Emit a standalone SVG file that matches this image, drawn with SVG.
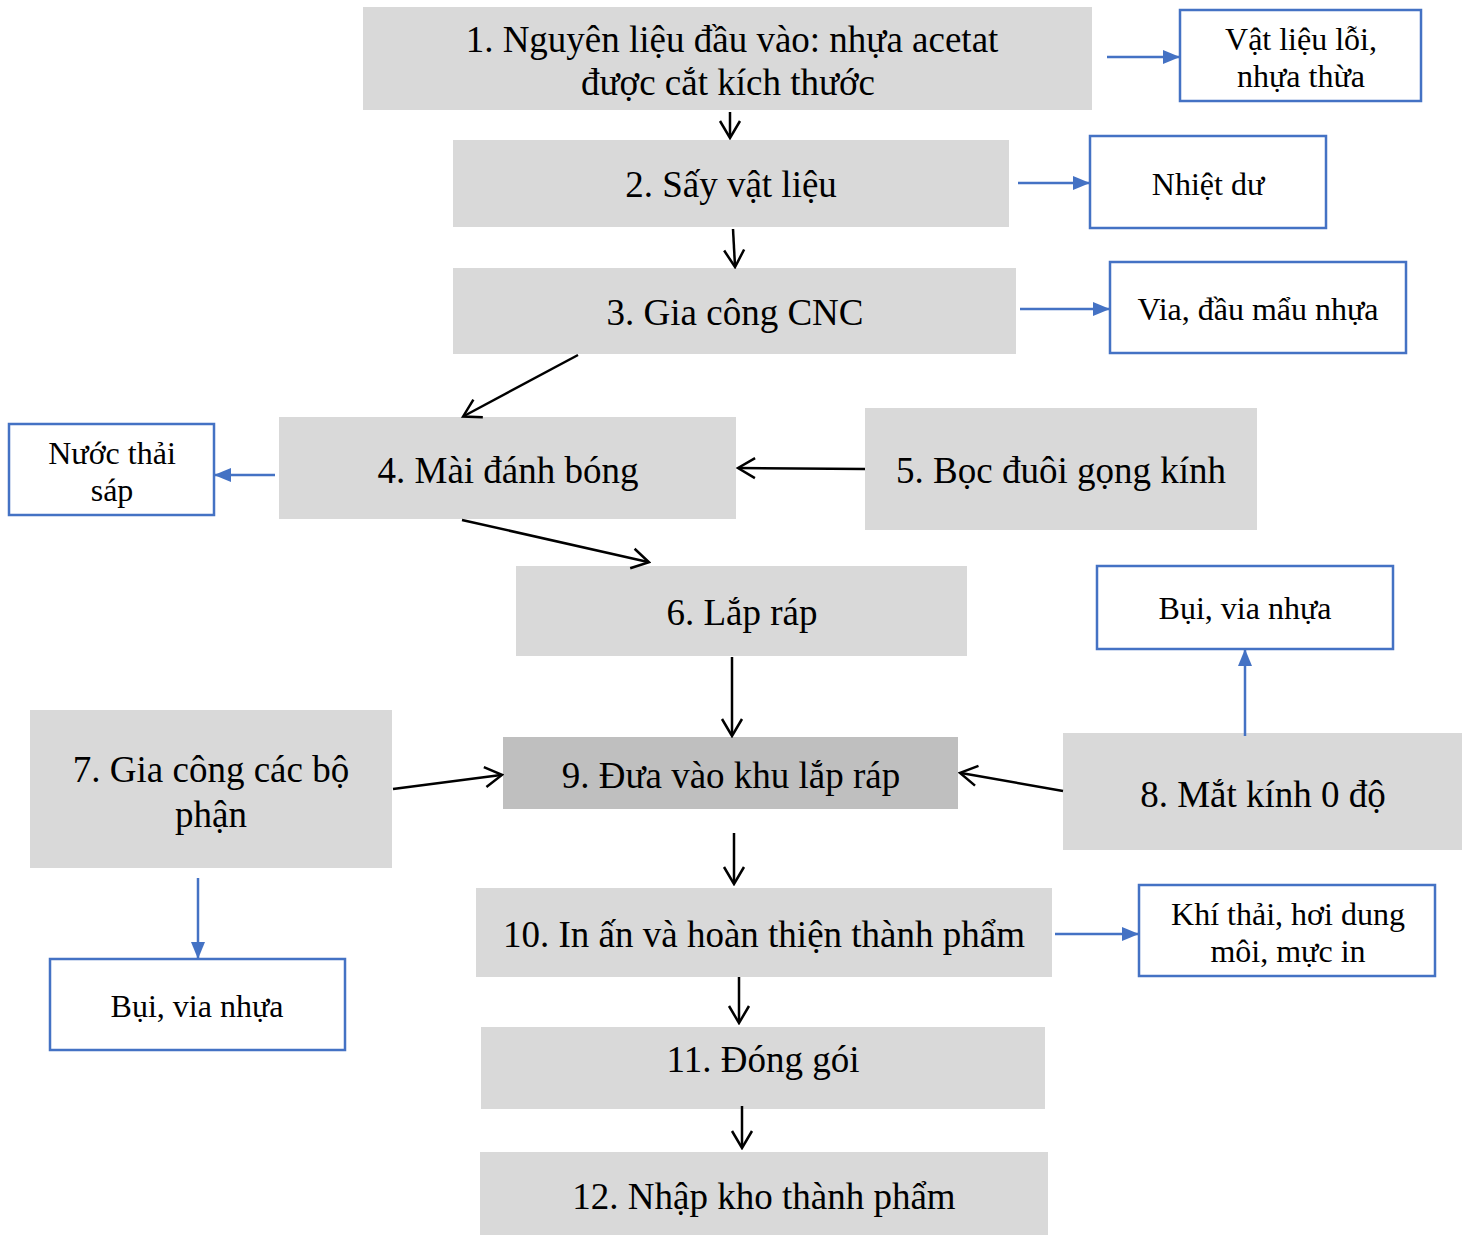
<svg xmlns="http://www.w3.org/2000/svg" width="1472" height="1236" viewBox="0 0 1472 1236">
<style>
.p{fill:#d9d9d9}
.p9{fill:#bfbfbf}
.o{fill:#fff;stroke:#4472c4;stroke-width:2.5}
text{font-family:"Liberation Serif","Times New Roman",serif;fill:#000;text-anchor:middle}
.t{font-size:37px}
.s{font-size:32px}
.k{stroke:#000;stroke-width:2.5;fill:none;marker-end:url(#mk)}
.b{stroke:#4472c4;stroke-width:2.5;fill:none;marker-end:url(#mb)}
</style>
<defs>
<marker id="mk" markerWidth="20" markerHeight="24" refX="17" refY="12" orient="auto" markerUnits="userSpaceOnUse" viewBox="0 0 20 24"><path d="M1,2 L18,12 L1,22" fill="none" stroke="#000" stroke-width="2.5"/></marker>
<marker id="mb" markerWidth="17" markerHeight="16" refX="16" refY="8" orient="auto" markerUnits="userSpaceOnUse" viewBox="0 0 17 16"><path d="M0,1 L17,8 L0,15 Z" fill="#4472c4"/></marker>
</defs>
<rect width="1472" height="1236" fill="#fff"/>
<g id="n1"><rect class="p" x="363" y="7" width="729" height="103"/><text class="t" x="732" y="52">1. Nguyên liệu đầu vào: nhựa acetat</text><text class="t" x="728" y="95">được cắt kích thước</text></g>
<g id="w1"><rect class="o" x="1180" y="10" width="241" height="91"/><text class="s" x="1301" y="50">Vật liệu lỗi,</text><text class="s" x="1301" y="87">nhựa thừa</text></g>
<g id="n2"><rect class="p" x="453" y="140" width="556" height="87"/><text class="t" x="731" y="197">2. Sấy vật liệu</text></g>
<g id="w2"><rect class="o" x="1090" y="136" width="236" height="92"/><text class="s" x="1208" y="195">Nhiệt dư</text></g>
<g id="n3"><rect class="p" x="453" y="268" width="563" height="86"/><text class="t" x="735" y="325">3. Gia công CNC</text></g>
<g id="w3"><rect class="o" x="1110" y="262" width="296" height="91"/><text class="s" x="1258" y="320">Via, đầu mẩu nhựa</text></g>
<g id="n4"><rect class="p" x="279" y="417" width="457" height="102"/><text class="t" x="508" y="483">4. Mài đánh bóng</text></g>
<g id="w4"><rect class="o" x="9" y="424" width="205" height="91"/><text class="s" x="112" y="464">Nước thải</text><text class="s" x="112" y="501">sáp</text></g>
<g id="n5"><rect class="p" x="865" y="408" width="392" height="122"/><text class="t" x="1061" y="483">5. Bọc đuôi gọng kính</text></g>
<g id="n6"><rect class="p" x="516" y="566" width="451" height="90"/><text class="t" x="742" y="625">6. Lắp ráp</text></g>
<g id="w8"><rect class="o" x="1097" y="566" width="296" height="83"/><text class="s" x="1245" y="619">Bụi, via nhựa</text></g>
<g id="n7"><rect class="p" x="30" y="710" width="362" height="158"/><text class="t" x="211" y="782">7. Gia công các bộ</text><text class="t" x="211" y="827">phận</text></g>
<g id="n9"><rect class="p9" x="503" y="737" width="455" height="72"/><text class="t" x="731" y="788">9. Đưa vào khu lắp ráp</text></g>
<g id="n8"><rect class="p" x="1063" y="733" width="399" height="117"/><text class="t" x="1263" y="807">8. Mắt kính 0 độ</text></g>
<g id="w7"><rect class="o" x="50" y="959" width="295" height="91"/><text class="s" x="197" y="1017">Bụi, via nhựa</text></g>
<g id="n10"><rect class="p" x="476" y="888" width="576" height="89"/><text class="t" x="764" y="947">10. In ấn và hoàn thiện thành phẩm</text></g>
<g id="w10"><rect class="o" x="1139" y="885" width="296" height="91"/><text class="s" x="1288" y="925">Khí thải, hơi dung</text><text class="s" x="1288" y="962">môi, mực in</text></g>
<g id="n11"><rect class="p" x="481" y="1027" width="564" height="82"/><text class="t" x="763" y="1072">11. Đóng gói</text></g>
<g id="n12"><rect class="p" x="480" y="1152" width="568" height="83"/><text class="t" x="764" y="1209">12. Nhập kho thành phẩm</text></g>
<g id="connectors">
<line class="k" x1="730" y1="112" x2="730" y2="137"/>
<line class="k" x1="733" y1="229" x2="735" y2="266"/>
<line class="k" x1="578" y1="355" x2="464" y2="416"/>
<line class="k" x1="865" y1="469" x2="739" y2="468"/>
<line class="k" x1="462" y1="520" x2="648" y2="562"/>
<line class="k" x1="732" y1="657" x2="732" y2="735"/>
<line class="k" x1="393" y1="789" x2="501" y2="775"/>
<line class="k" x1="1063" y1="791" x2="961" y2="773"/>
<line class="k" x1="734" y1="833" x2="734" y2="883"/>
<line class="k" x1="739" y1="977" x2="739" y2="1022"/>
<line class="k" x1="742" y1="1106" x2="742" y2="1147"/>
<line class="b" x1="1107" y1="57" x2="1179" y2="57"/>
<line class="b" x1="1018" y1="183" x2="1089" y2="183"/>
<line class="b" x1="1020" y1="309" x2="1109" y2="309"/>
<line class="b" x1="275" y1="475" x2="215" y2="475"/>
<line class="b" x1="1245" y1="736" x2="1245" y2="650"/>
<line class="b" x1="198" y1="878" x2="198" y2="958"/>
<line class="b" x1="1055" y1="934" x2="1138" y2="934"/>
</g>
</svg>
